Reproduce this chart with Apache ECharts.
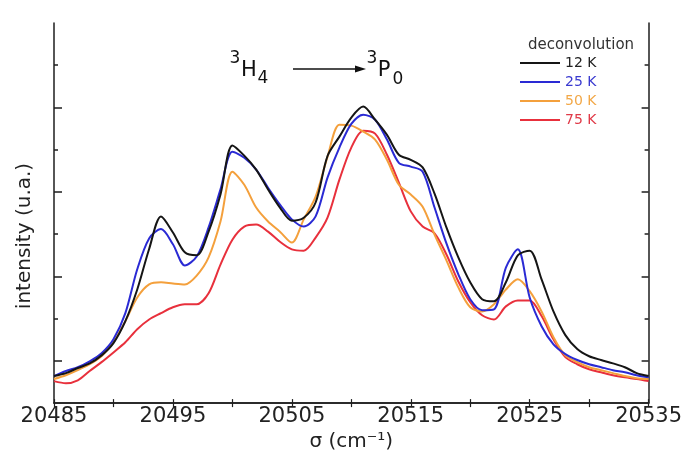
<!DOCTYPE html>
<html>
<head>
<meta charset="utf-8">
<script src="https://cdn.jsdelivr.net/npm/echarts@6/dist/echarts.min.js"></script>
<style>html,body{margin:0;padding:0;background:#fff;}#c{width:685px;height:457px;}</style>
</head>
<body>
<div id="c"></div>
<script>
// wavenumber grid (cm^-1)
var sigma = [20485,20486,20487,20488,20489,20490,20491,20492,20493,20494,20495,20496,20497,20498,20499,20500,20501,20502,20503,20504,20505,20506,20507,20508,20509,20510,20511,20512,20513,20514,20515,20516,20517,20518,20519,20520,20521,20522,20523,20524,20525,20526,20527,20528,20529,20530,20531,20532,20533,20534,20535];
// intensities (arbitrary units)
var k12 = [0.64,0.71,0.83,0.94,1.13,1.42,1.94,2.69,3.65,4.42,4.04,3.57,3.50,4.06,4.94,6.10,5.86,5.53,5.06,4.63,4.32,4.39,4.75,5.85,6.31,6.76,7.02,6.71,6.35,5.88,5.76,5.58,4.96,4.16,3.45,2.86,2.46,2.41,2.86,3.50,3.61,2.93,2.17,1.61,1.28,1.11,1.02,0.94,0.85,0.71,0.64];
var k25 = [0.64,0.76,0.85,0.99,1.18,1.51,2.13,3.17,3.90,4.12,3.76,3.26,3.47,4.16,5.06,5.95,5.81,5.53,5.10,4.70,4.35,4.18,4.42,5.34,6.05,6.61,6.83,6.71,6.24,5.69,5.60,5.48,4.63,3.78,3.05,2.46,2.20,2.22,3.21,3.64,2.50,1.82,1.39,1.16,1.02,0.92,0.85,0.78,0.73,0.66,0.61];
var k50 = [0.57,0.66,0.78,0.92,1.11,1.44,1.94,2.50,2.81,2.86,2.83,2.81,3.02,3.45,4.30,5.48,5.17,4.63,4.30,4.06,3.80,4.35,4.89,5.83,6.59,6.57,6.43,6.24,5.76,5.17,4.94,4.65,3.99,3.38,2.74,2.27,2.17,2.34,2.69,2.93,2.65,2.17,1.56,1.13,0.97,0.85,0.78,0.71,0.64,0.59,0.57];
var k75 = [0.52,0.47,0.54,0.76,0.97,1.20,1.44,1.75,1.98,2.13,2.27,2.34,2.34,2.60,3.28,3.87,4.18,4.23,4.06,3.82,3.64,3.61,3.92,4.39,5.29,6.05,6.45,6.38,5.88,5.22,4.54,4.18,4.02,3.52,2.88,2.39,2.08,1.98,2.29,2.43,2.43,2.06,1.51,1.09,0.92,0.80,0.73,0.66,0.61,0.57,0.52];
var seriesNames = ['12 K','25 K','50 K','75 K'];
var seriesColors = ['#151515','#2a2ad4','#f4a03c','#e8303c'];
var legendTextColors = ['#222222','#3a3ad0','#f2a848','#e03a48'];
var xTickLabels = [20485,20495,20505,20515,20525,20535];
var xTicks = [20485,20490,20495,20500,20505,20510,20515,20520,20525,20530,20535];
var yMajorTicks = [1,3,5,7];
var yMinorTicks = [2,4,6,8];

function pairs(arr){ return sigma.map(function(s,i){ return [s, arr[i]]; }); }
var dataSets = [k12,k25,k50,k75];

var chart = echarts.init(document.getElementById('c'), null, {renderer:'canvas'});
var FONT = 'DejaVu Sans';
var axisColor = '#1e1e1e';

function yAx(pos, ticks, len, showLine){
  return {
    type:'value', position:pos, min:0, max:9,
    axisLine:{show:showLine, lineStyle:{color:axisColor, width:1.5}},
    axisTick:{show:true, inside:true, length:len, customValues:ticks, lineStyle:{color:axisColor, width:1.5}},
    axisLabel:{show:false}, splitLine:{show:false}
  };
}

var series = [];
for (var i = 3; i >= 0; i--) {
  series.push({
    name: seriesNames[i], type:'line', xAxisIndex:0, yAxisIndex:0,
    data: pairs(dataSets[i]), showSymbol:false, smooth:0.3,
    lineStyle:{color:seriesColors[i], width:2}, itemStyle:{color:seriesColors[i]},
    animation:false
  });
}

chart.setOption({
  backgroundColor:'#ffffff',
  animation:false,
  grid:{left:54, right:34, top:23, bottom:53},
  xAxis:[{
    type:'value', position:'bottom', min:20485, max:20535,
    name:'σ (cm⁻¹)', nameLocation:'middle', nameGap:23,
    nameTextStyle:{fontFamily:FONT, fontSize:20, color:'#222'},
    axisLine:{show:true, lineStyle:{color:axisColor, width:1.5}},
    axisTick:{show:true, inside:true, length:4, customValues:xTicks, lineStyle:{color:axisColor, width:1.2}},
    axisLabel:{show:true, customValues:xTickLabels, margin:3, fontFamily:FONT, fontSize:21, color:'#222',
      formatter:function(v){ return String(v); }},
    splitLine:{show:false}
  },{
    type:'value', position:'top', min:20485, max:20535,
    axisLine:{show:true, lineStyle:{color:axisColor, width:1.5}},
    axisTick:{show:true, inside:true, length:4, customValues:xTicks, lineStyle:{color:axisColor, width:1.2}},
    axisLabel:{show:false}, splitLine:{show:false}
  }],
  yAxis:[
    yAx('left', yMajorTicks, 8, true),
    yAx('left', yMinorTicks, 4, false),
    yAx('right', yMajorTicks, 7, true),
    yAx('right', yMinorTicks, 4, false)
  ],
  legend:{
    orient:'vertical', left:515, top:51, icon:'rect', itemWidth:40, itemHeight:2, itemGap:5,
    textStyle:{fontFamily:FONT, fontSize:14},
    data: seriesNames.map(function(n,i){ return {name:n, textStyle:{color:legendTextColors[i]}}; })
  },
  graphic:[
    {type:'text', x:581, y:45, style:{text:'deconvolution', font:'15px "DejaVu Sans"', fill:'#333', align:'center', verticalAlign:'middle'}},
    {type:'text', x:25, y:236, rotation:Math.PI/2, style:{text:'intensity (u.a.)', font:'20px "DejaVu Sans"', fill:'#222', align:'center', verticalAlign:'middle'}},
    {type:'text', x:235, y:59, style:{text:'3', font:'17px "DejaVu Sans"', fill:'#111', align:'center', verticalAlign:'middle'}},
    {type:'text', x:249, y:71, style:{text:'H', font:'21px "DejaVu Sans"', fill:'#111', align:'center', verticalAlign:'middle'}},
    {type:'text', x:263, y:79, style:{text:'4', font:'17px "DejaVu Sans"', fill:'#111', align:'center', verticalAlign:'middle'}},
    {type:'line', shape:{x1:293, y1:69, x2:358, y2:69}, style:{stroke:'#111', lineWidth:1.5}},
    {type:'polygon', shape:{points:[[355,65.5],[366,69],[355,72.5]]}, style:{fill:'#111'}},
    {type:'text', x:372, y:59, style:{text:'3', font:'17px "DejaVu Sans"', fill:'#111', align:'center', verticalAlign:'middle'}},
    {type:'text', x:384, y:71, style:{text:'P', font:'21px "DejaVu Sans"', fill:'#111', align:'center', verticalAlign:'middle'}},
    {type:'text', x:398, y:80, style:{text:'0', font:'17px "DejaVu Sans"', fill:'#111', align:'center', verticalAlign:'middle'}}
  ],
  series: series
});
</script>
</body>
</html>
